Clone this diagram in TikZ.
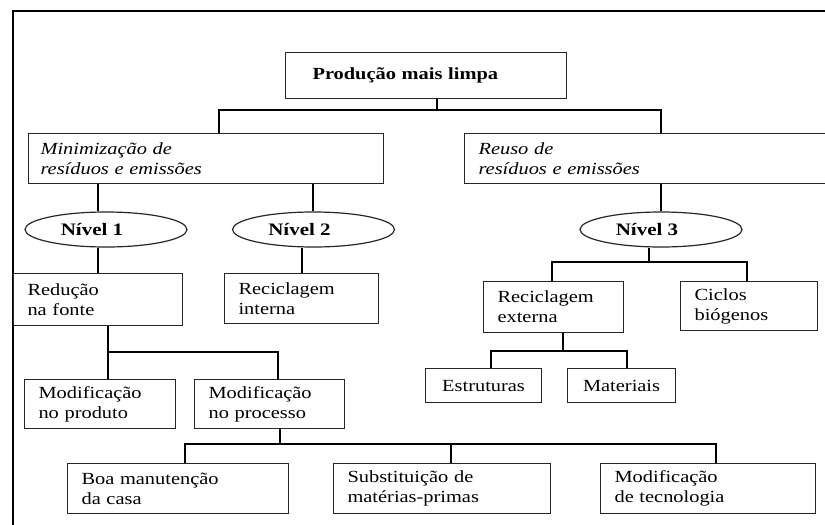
\documentclass[tikz,border=0pt]{standalone}
\usepackage{fontspec}
\setmainfont{Liberation Serif}[FakeStretch=1.2]
\usepackage{tikz}
\usetikzlibrary{shapes.geometric}

\tikzset{
  blk/.style={draw=black!85, line width=1.1pt, anchor=north west, align=left, inner xsep=14pt, inner ysep=0pt},
  lvl/.style={draw=black!85, ellipse, line width=1.2pt, minimum width=162pt, minimum height=35pt, inner sep=0pt,
    font=\fontsize{17.5}{20}\selectfont\bfseries, execute at begin node=\hspace*{-28pt}},
  wire/.style={line width=1.6pt}
}

\begin{document}
\begin{tikzpicture}[x=1pt,y=-1pt,font=\fontsize{17}{20}\selectfont]
\useasboundingbox (0,0) rectangle (825,525);
\clip (0,0) rectangle (825,525);
% frame
\draw[line width=1.4pt] (825,11) -- (13,11) -- (13,525);

% boxes
\node[blk, minimum width=281pt, minimum height=46pt, text width=227pt, inner xsep=27pt, font=\fontsize{17}{20}\selectfont\bfseries] (prod) at (285,52) {Produção mais limpa};
\node[blk, minimum width=355pt, minimum height=50pt, text width=331pt, inner xsep=12pt, font=\fontsize{17}{20}\selectfont\itshape] (mini) at (28,133) {Minimização de\\resíduos e emissões};
\node[blk, minimum width=400pt, minimum height=50pt, text width=372pt, font=\fontsize{17}{20}\selectfont\itshape] (reuso) at (464,133) {Reuso de\\resíduos e emissões};

\node[lvl] (niv1) at (106,229.5) {Nível 1};
\node[lvl] (niv2) at (313.5,229.5) {Nível 2};
\node[lvl] (niv3) at (661,229.5) {Nível 3};

\node[blk, minimum width=169pt, minimum height=52pt, text width=141pt] (red) at (13,273) {Redução\\na fonte};
\node[blk, minimum width=154pt, minimum height=50pt, text width=126pt] (recint) at (224,273) {Reciclagem\\interna};
\node[blk, minimum width=140pt, minimum height=51pt, text width=112pt] (recext) at (483,281) {Reciclagem\\externa};
\node[blk, minimum width=137pt, minimum height=49pt, text width=109pt] (ciclos) at (680,281) {Ciclos\\biógenos};
\node[blk, minimum width=116pt, minimum height=34pt, inner xsep=0pt] (estr) at (425,368) {Estruturas};
\node[blk, minimum width=108pt, minimum height=34pt, inner xsep=0pt] (mat) at (567,368) {Materiais};

\node[blk, minimum width=151pt, minimum height=49pt, text width=123pt] (mprod) at (24,379) {Modificação\\no produto};
\node[blk, minimum width=150pt, minimum height=49pt, text width=122pt] (mproc) at (194,379) {Modificação\\no processo};

\node[blk, minimum width=221pt, minimum height=50pt, text width=193pt] (boa) at (67,463) {Boa manutenção\\da casa};
\node[blk, minimum width=217pt, minimum height=50pt, text width=189pt] (subs) at (333,463) {Substituição de\\matérias-primas};
\node[blk, minimum width=215pt, minimum height=50pt, text width=187pt] (mtec) at (600,463) {Modificação\\de tecnologia};

% connectors
\coordinate (j0) at (437,110);
\coordinate (j0l) at (219,110);
\coordinate (j0r) at (661,110);
\draw[wire] (prod.south -| j0) -- (j0);
\draw[wire] (mini.north -| j0l) -- (j0l) -- (j0r) -- (reuso.north -| j0r);
\draw[wire] (mini.south -| 98,0) -- (niv1.north -| 98,0);
\draw[wire] (mini.south -| 313,0) -- (niv2.north -| 313,0);
\draw[wire] (niv1.south -| 98,0) -- (red.north -| 98,0);
\draw[wire] (niv2.south -| 302,0) -- (recint.north -| 302,0);
\draw[wire] (reuso.south -| 661,0) -- (niv3.north -| 661,0);

% nivel 3
\coordinate (j3) at (649,262);
\draw[wire] (niv3.south -| j3) -- (j3);
\draw[wire] (recext.north -| 552,0) |- (j3) -| (ciclos.north -| 747,0);

% reciclagem externa
\coordinate (j4) at (563,351);
\draw[wire] (recext.south -| j4) -- (j4);
\draw[wire] (estr.north -| 491,0) |- (j4) -| (mat.north -| 627,0);

% reducao na fonte
\coordinate (j5) at (108,352);
\draw[wire] (red.south -| j5) -- (j5) -| (mproc.north -| 278,0);
\draw[wire] (j5) -- (mprod.north -| j5);

% modificacao no processo
\coordinate (j6) at (280,444);
\draw[wire] (mproc.south -| j6) -- (j6);
\draw[wire] (boa.north -| 185,0) |- (j6) -| (mtec.north -| 716,0);
\draw[wire] (j6 -| 451,0) -- (subs.north -| 451,0);
\end{tikzpicture}
\end{document}
